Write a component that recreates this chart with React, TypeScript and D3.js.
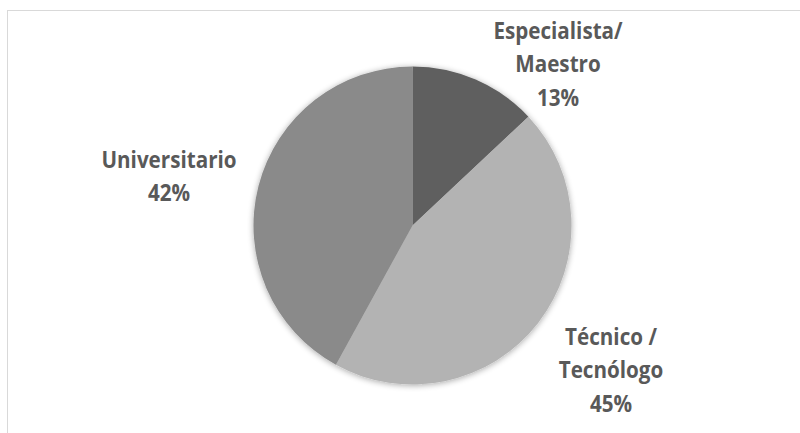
import React from "react";
import * as d3 from "d3";

const categories = ["Especialista/\nMaestro", "Técnico /\nTecnólogo", "Universitario"];
const values = [13, 45, 42];
const percentLabels = ["13%", "45%", "42%"];
const colors = ["#5f5f5f", "#b3b3b3", "#8a8a8a"];

const W = 800;
const H = 433;
const cx = 412.5;
const cy = 225.5;
const R = 159;

// label anchor positions (center x, first baseline y)
const labelPos = [
  { x: 558, y: 39 },
  { x: 611, y: 345 },
  { x: 169, y: 168 },
];
const lineH = 33.5;
const sx = 0.86;

export default function App() {
  const pie = d3.pie<number>().sort(null).value((d) => d)(values);
  const arc = d3.arc<d3.PieArcDatum<number>>().innerRadius(0).outerRadius(R);
  return (
    <svg
      width={W}
      height={H}
      style={{ position: "absolute", left: 0, top: 0, background: "#fff" }}
    >
      <defs>
        <filter id="sh" x="-20%" y="-20%" width="140%" height="140%">
          <feGaussianBlur in="SourceAlpha" stdDeviation="3" />
          <feOffset dx="0" dy="1" result="b" />
          <feComponentTransfer>
            <feFuncA type="linear" slope="0.35" />
          </feComponentTransfer>
          <feMerge>
            <feMergeNode />
            <feMergeNode in="SourceGraphic" />
          </feMerge>
        </filter>
      </defs>
      <rect x={7.5} y={10.5} width={900} height={600} fill="#fff" stroke="#d9d9d9" strokeWidth={1} />
      <g transform={`translate(${cx},${cy})`} filter="url(#sh)">
        {pie.map((p, i) => (
          <path key={i} d={arc(p) || ""} fill={colors[i]} />
        ))}
      </g>
      {categories.map((c, i) => {
        const lines = [...c.split("\n"), percentLabels[i]];
        const x = labelPos[i].x;
        return (
          <g key={i} transform={`translate(${x},0) scale(${sx},1)`}>
            <text
              textAnchor="middle"
              fontFamily="'Open Sans', sans-serif"
              fontWeight="bold"
              fontSize={24}
              fill="#595959"
            >
              {lines.map((l, j) => (
                <tspan key={j} x={0} y={labelPos[i].y + j * lineH}>
                  {l}
                </tspan>
              ))}
            </text>
          </g>
        );
      })}
    </svg>
  );
}
